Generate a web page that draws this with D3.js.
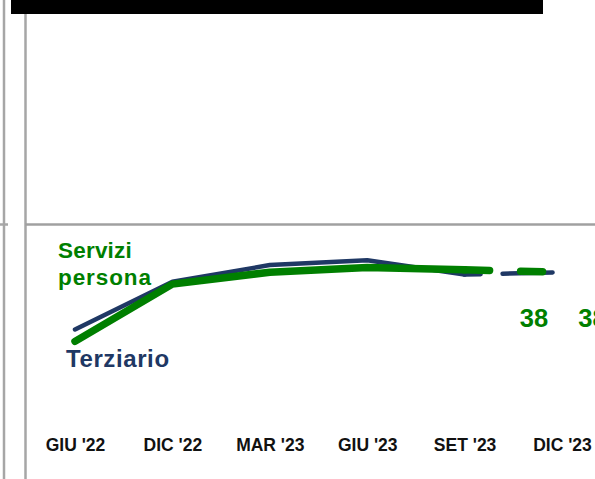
<!DOCTYPE html>
<html>
<head>
<meta charset="utf-8">
<script src="https://cdn.jsdelivr.net/npm/d3@7"></script>
<style>
  body { margin: 0; background: #fff; }
  svg { display: block; }
</style>
</head>
<body>
<div id="chart"></div>
<script>
const categories = ["GIU '22", "DIC '22", "MAR '23", "GIU '23", "SET '23", "DIC '23"];
const terziario = [35.6, 37.6, 38.3, 38.5, 37.9, 38.0];
const serviziPersona = [35.1, 37.5, 38.0, 38.2, 38.1, 38.0];
const endLabels = ["38", "38"];

const width = 595, height = 479;

const svg = d3.select("#chart")
  .append("svg")
  .attr("width", width)
  .attr("height", height);

const x = d3.scalePoint()
  .domain(categories)
  .range([75, 562]);

const y = d3.scaleLinear()
  .domain([30, 40])
  .range([463, 224.5]);

// black title bar (cropped)
svg.append("rect")
  .attr("x", 11).attr("y", 0)
  .attr("width", 532).attr("height", 14)
  .attr("fill", "#000");

// frame lines
svg.append("line")
  .attr("x1", 4).attr("x2", 4).attr("y1", 0).attr("y2", height)
  .attr("stroke", "#a6a6a6").attr("stroke-width", 2.5);
svg.append("line")
  .attr("x1", 25.5).attr("x2", 25.5).attr("y1", 14).attr("y2", height)
  .attr("stroke", "#a6a6a6").attr("stroke-width", 2.5);
svg.append("line")
  .attr("x1", 0).attr("x2", 8).attr("y1", y(40)).attr("y2", y(40))
  .attr("stroke", "#a6a6a6").attr("stroke-width", 2.5);

// gridline
svg.append("line")
  .attr("x1", 25.5).attr("x2", width).attr("y1", y(40)).attr("y2", y(40))
  .attr("stroke", "#a0a0a0").attr("stroke-width", 2.5);

// X Axis
const xAxis = svg.append("g")
  .attr("transform", "translate(0,451)")
  .call(d3.axisBottom(x).tickSize(0).tickPadding(0));
xAxis.select(".domain").remove();
xAxis.selectAll("text")
  .attr("y", 0).attr("dy", 0)
  .attr("fill", "#111")
  .style("font-family", "'Liberation Sans', Arial, sans-serif")
  .style("font-weight", "bold")
  .style("font-size", "17.5px")
  .style("letter-spacing", "0px");

const line = d3.line()
  .x((d, i) => x(categories[i]))
  .y(d => y(d));

const series = [
  {values: terziario, color: "#1f3864", w: 4.5, dash: "16,22,50,100"},
  {values: serviziPersona, color: "#007f00", w: 7.5, dash: "25,31,22,100"}
];

series.forEach(s => {
  const solid = s.values.slice(0, 5);
  svg.append("path")
    .attr("d", line(solid))
    .attr("fill", "none")
    .attr("stroke", s.color)
    .attr("stroke-width", s.w)
    .attr("stroke-linecap", "round")
    .attr("stroke-linejoin", "round");

  const last = d3.line()
    .x((d, i) => x(categories[4 + i]))
    .y(d => y(d));
  svg.append("path")
    .attr("d", last(s.values.slice(4)))
    .attr("fill", "none")
    .attr("stroke", s.color)
    .attr("stroke-width", s.w)
    .attr("stroke-linecap", "round")
    .attr("stroke-dasharray", s.dash);
});

// series labels
const labelFont = "'Liberation Sans', Arial, sans-serif";
const serv = svg.append("text")
  .attr("fill", "#007f00")
  .style("font-family", labelFont)
  .style("font-weight", "bold")
  .style("font-size", "22.5px");
serv.append("tspan").attr("x", 58).attr("y", 258).style("letter-spacing", "0.2px").text("Servizi");
serv.append("tspan").attr("x", 58).attr("y", 285).style("letter-spacing", "0.9px").text("persona");

svg.append("text")
  .attr("x", 66).attr("y", 367)
  .attr("fill", "#1f3864")
  .style("font-family", labelFont)
  .style("font-weight", "bold")
  .style("font-size", "24px")
  .style("letter-spacing", "0.6px")
  .text("Terziario");

// value labels
svg.selectAll(".vlabel")
  .data(endLabels)
  .enter().append("text")
  .attr("class", "vlabel")
  .attr("x", (d, i) => x("DIC '23") - 28 + i * 58.5)
  .attr("y", 327)
  .attr("text-anchor", "middle")
  .attr("fill", "#007f00")
  .style("font-family", labelFont)
  .style("font-weight", "bold")
  .style("font-size", "25.5px")
  .text(d => d);
</script>
</body>
</html>
